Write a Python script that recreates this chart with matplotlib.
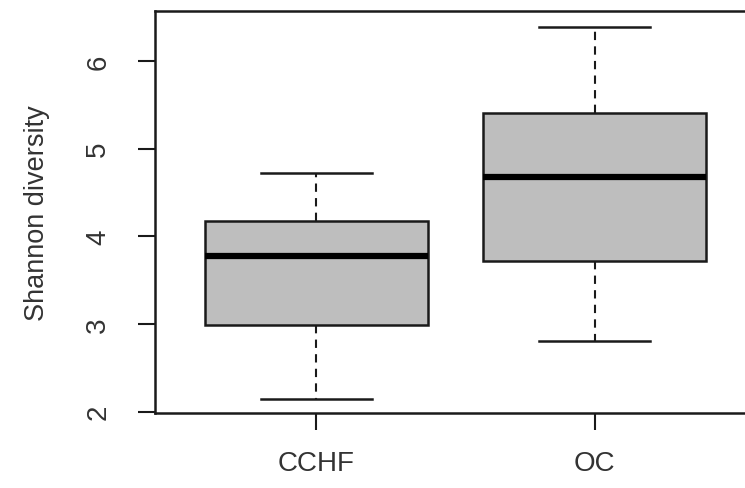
import matplotlib.pyplot as plt

plt.rcParams["font.family"] = ["Liberation Sans", "DejaVu Sans"]

# Summary statistics per group (Shannon diversity)
groups = ["CCHF", "OC"]
whisker_low = [2.15, 2.81]
q1 = [2.99, 3.72]
medians = [3.78, 4.68]
q3 = [4.18, 5.41]
whisker_high = [4.72, 6.39]

stats = []
for i, g in enumerate(groups):
    stats.append({
        "label": g,
        "whislo": whisker_low[i],
        "q1": q1[i],
        "med": medians[i],
        "q3": q3[i],
        "whishi": whisker_high[i],
        "fliers": [],
    })

W, H = 745, 489
fig = plt.figure(figsize=(W / 100, H / 100), dpi=100)
# R-style axis box; the right edge runs just past the figure edge
ax = fig.add_axes([155 / W, (H - 414) / H, (756 - 155) / W, (414 - 12) / H])

ax.bxp(
    stats,
    positions=[1, 2],
    widths=0.8,
    patch_artist=True,
    boxprops=dict(facecolor="#bebebe", edgecolor="#1a1a1a", linewidth=1.8),
    medianprops=dict(color="black", linewidth=4.5, solid_capstyle="butt"),
    whiskerprops=dict(color="#1a1a1a", linewidth=1.5, linestyle=(0, (4, 3))),
    capprops=dict(color="#1a1a1a", linewidth=1.8),
    capwidths=0.4,
    showfliers=False,
)

ax.set_xlim(0.42, 2.58)
ax.set_ylim(1.985, 6.57)
ax.set_yticks([2, 3, 4, 5, 6])
ax.set_xticks([1, 2])
ax.set_xticklabels(groups)

for s in ax.spines.values():
    s.set_linewidth(1.8)
    s.set_color("#1a1a1a")

ax.tick_params(axis="both", length=12.5, width=1.5, color="#1a1a1a",
               labelsize=20, labelcolor="#333333")
ax.tick_params(axis="x", pad=14)
ax.tick_params(axis="y", pad=19)
for lbl in ax.get_yticklabels():
    lbl.set_rotation(90)
    lbl.set_va("center")

ax.set_ylabel("Shannon diversity", fontsize=19.5, color="#333333")
ax.yaxis.set_label_coords(-0.175, 0.5)

fig.savefig("out.png", dpi=100)
